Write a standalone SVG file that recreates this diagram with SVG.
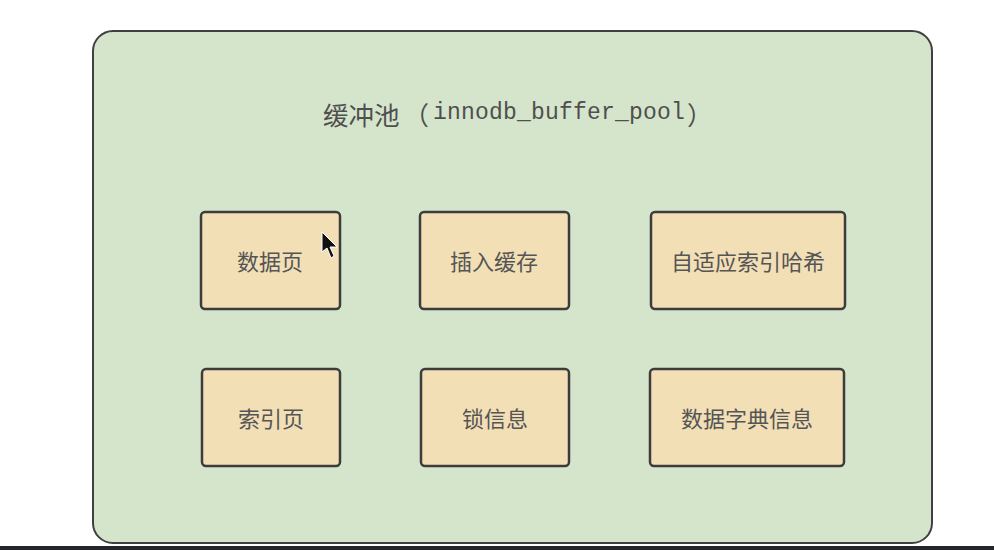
<svg xmlns="http://www.w3.org/2000/svg" width="994" height="550" viewBox="0 0 994 550">
<style>
.pool{fill:#d5e5cb;stroke:#404040;stroke-width:2}
.box{fill:#f3dfb6;stroke:#3c3c3c;stroke-width:2.5}
.lbl{font-family:"Noto Sans CJK SC","Noto Sans",sans-serif;font-size:22px;fill:#555555;text-anchor:middle;dominant-baseline:central}
.title{font-family:"Liberation Mono","Noto Sans CJK SC",monospace;font-size:23px;fill:#4f4f4f;dominant-baseline:central}
.cjk{font-family:"Noto Sans CJK SC",sans-serif;font-size:25.5px}
</style>
<rect x="0" y="0" width="994" height="550" fill="#ffffff"/>
<rect x="0" y="546" width="994" height="4" fill="#25262d"/>
<g id="buffer_pool">
<rect class="pool" x="93" y="31" width="839" height="512" rx="20"/>
<text class="title" x="323" y="113"><tspan class="cjk">缓冲池</tspan><tspan class="cjk" dx="4">（</tspan><tspan dx="4" letter-spacing="0.2">innodb_buffer_pool</tspan><tspan class="cjk" dx="2">）</tspan></text>
</g>
<g id="data_page"><rect class="box" x="201" y="212" width="139" height="97" rx="4"/><text class="lbl" x="270" y="260">数据页</text></g>
<g id="insert_buffer"><rect class="box" x="420" y="212" width="149" height="97" rx="4"/><text class="lbl" x="494" y="260">插入缓存</text></g>
<g id="adaptive_hash"><rect class="box" x="651" y="212" width="194" height="97" rx="4"/><text class="lbl" x="748" y="260">自适应索引哈希</text></g>
<g id="index_page"><rect class="box" x="202" y="369" width="138" height="97" rx="4"/><text class="lbl" x="271" y="417">索引页</text></g>
<g id="lock_info"><rect class="box" x="421" y="369" width="148" height="97" rx="4"/><text class="lbl" x="495" y="417">锁信息</text></g>
<g id="data_dict"><rect class="box" x="650" y="369" width="194" height="97" rx="4"/><text class="lbl" x="747" y="417">数据字典信息</text></g>
<g id="connectors"></g>
<path d="M322 232 L322 252 L327 248 L331 258 L334 256 L330 247 L337 247 Z" fill="#111111" stroke="#ffffff" stroke-width="1"/>
</svg>
